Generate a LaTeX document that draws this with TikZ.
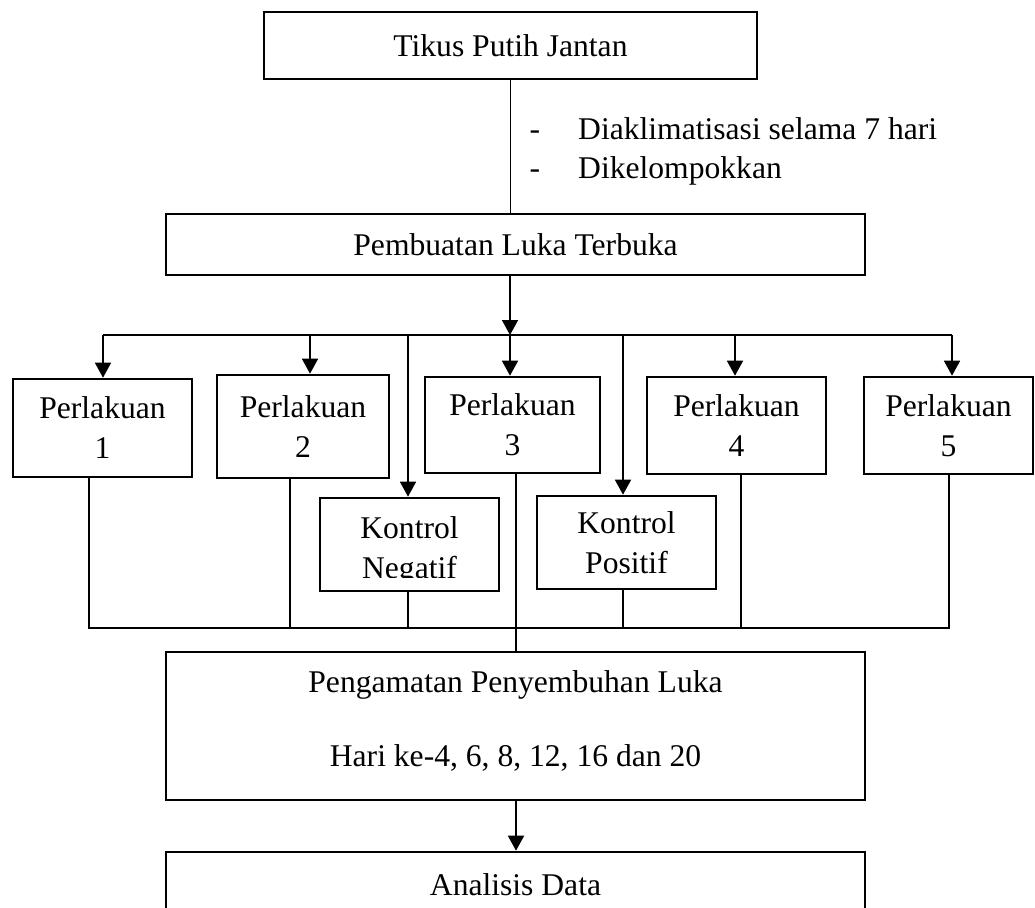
\documentclass[tikz,border=0pt]{standalone}
\usepackage{fontspec}
\setmainfont{Liberation Serif}
\usetikzlibrary{arrows.meta}
\begin{document}
\begin{tikzpicture}[x=1pt,y=-1pt,
  box/.style={draw,line width=2.6pt,inner sep=0pt,align=center,font=\fontsize{31.6}{40}\selectfont},
  txt/.style={inner sep=0pt,font=\fontsize{31.6}{40}\selectfont},
  conn/.style={line width=1.6pt},
  arr/.style={conn,-{Triangle[width=16pt,length=15pt]}}]
\clip (0,0) rectangle (1035,907);
\fill[white] (0,0) rectangle (1035,907);
% main boxes
\node[box,minimum width=493pt,minimum height=67pt] (top) at (510.5,45.5) {Tikus Putih Jantan};
\node[box,minimum width=699pt,minimum height=61pt] (pemb) at (515.5,244.5) {Pembuatan Luka Terbuka};
% list text
\node[txt,anchor=base] (d1) at (535,139) {-};
\node[txt,anchor=base west] (l1) at (578,139) {Diaklimatisasi selama 7 hari};
\node[txt,anchor=base] (d2) at (535,178) {-};
\node[txt,anchor=base west] (l2) at (578,178) {Dikelompokkan};
% treatment boxes
\node[box,minimum width=179pt,minimum height=98pt] (p1) at (102.5,428) {Perlakuan\\1};
\node[box,minimum width=172pt,minimum height=103pt] (p2) at (303,426.5) {Perlakuan\\2};
\node[box,minimum width=175pt,minimum height=96pt] (p3) at (512.5,425) {Perlakuan\\3};
\node[box,minimum width=179pt,minimum height=97pt] (p4) at (736.5,425.5) {Perlakuan\\4};
\node[box,minimum width=169pt,minimum height=97pt] (p5) at (948.5,425.5) {Perlakuan\\5};
\node[box,minimum width=179pt,minimum height=93pt] (kn) at (409.5,544.5) {};
\begin{scope}
  \clip (320,498) rectangle (499,577.5);
  \node[txt,align=center] (kntext) at (409.5,550.6) {Kontrol\\Negatif};
\end{scope}
\node[box,minimum width=179pt,minimum height=93pt] (kp) at (626.5,542.5) {Kontrol\\Positif};
% observation and analysis
\node[box,minimum width=699pt,minimum height=148pt] (peng) at (515.5,726) {};
\node[txt,anchor=base] (pg1) at (515.5,692) {Pengamatan Penyembuhan Luka};
\node[txt,anchor=base] (pg2) at (515.5,766) {Hari ke-4, 6, 8, 12, 16 dan 20};
\node[box,minimum width=699pt,minimum height=66pt] (anal) at (515.5,885) {Analisis Data};
% connectors top
\draw[conn] (top.south) -- (top.south |- pemb.north);
\coordinate (busL) at (103,335);
\coordinate (busR) at (952,335);
\coordinate (bus3) at (510,335);
\coordinate (b2) at (310,335);
\coordinate (bn) at (408,335);
\coordinate (bp) at (623,335);
\coordinate (b4) at (735,335);
\draw[arr] (pemb.south -| bus3) -- (bus3);
\draw[conn] (busL) -- (busR);
\draw[arr] (busL) -- (busL |- p1.north);
\draw[arr] (b2) -- (b2 |- p2.north);
\draw[arr] (bn) -- (bn |- kn.north);
\draw[arr] (bus3) -- (bus3 |- p3.north);
\draw[arr] (bp) -- (bp |- kp.north);
\draw[arr] (b4) -- (b4 |- p4.north);
\draw[arr] (busR) -- (busR |- p5.north);
% connectors bottom
\coordinate (cL) at (89,628);
\coordinate (cR) at (949,628);
\coordinate (c2) at (290,628);
\coordinate (cn) at (408,628);
\coordinate (c3) at (516,628);
\coordinate (cp) at (623,628);
\coordinate (c4) at (741,628);
\draw[conn] (p1.south -| cL) -- (cL) -- (cR) -- (p5.south -| cR);
\draw[conn] (c2 |- p2.south) -- (c2);
\draw[conn] (kn.south -| cn) -- (cn);
\draw[conn] (c3 |- p3.south) -- (c3 |- peng.north);
\draw[conn] (kp.south -| cp) -- (cp);
\draw[conn] (c4 |- p4.south) -- (c4);
\draw[arr] (peng.south -| c3) -- (c3 |- anal.north);
\end{tikzpicture}
\end{document}
